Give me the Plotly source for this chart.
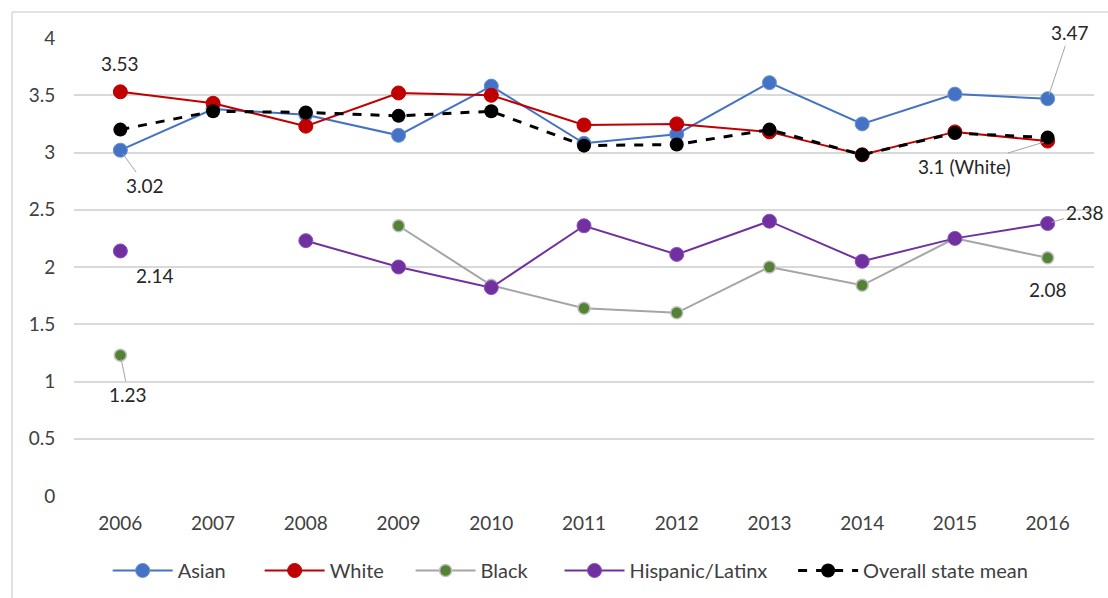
import plotly.graph_objects as go

years = ["2006", "2007", "2008", "2009", "2010", "2011", "2012", "2013", "2014", "2015", "2016"]

asian = [3.02, 3.38, 3.33, 3.15, 3.58, 3.08, 3.16, 3.61, 3.25, 3.51, 3.47]
white = [3.53, 3.43, 3.23, 3.52, 3.50, 3.24, 3.25, 3.18, 2.98, 3.18, 3.10]
black = [1.23, None, None, 2.36, 1.84, 1.64, 1.60, 2.00, 1.84, 2.25, 2.08]
hispanic = [2.14, None, 2.23, 2.00, 1.82, 2.36, 2.11, 2.40, 2.05, 2.25, 2.38]
state_mean = [3.20, 3.36, 3.35, 3.32, 3.36, 3.06, 3.07, 3.20, 2.98, 3.17, 3.13]

FONT = "Lato"
TXT = "#262626"

fig = go.Figure()

# drawing order: Black, Hispanic, Asian, White, mean on top
fig.add_trace(go.Scatter(
    x=years, y=black, name="Black", mode="lines+markers", legend="legend3",
    line=dict(color="#A5A5A5", width=2),
    marker=dict(color="#548235", size=12, line=dict(color="#BFBFBF", width=1.5)),
))
fig.add_trace(go.Scatter(
    x=years, y=hispanic, name="Hispanic/Latinx", mode="lines+markers", legend="legend4",
    line=dict(color="#7030A0", width=2),
    marker=dict(color="#7030A0", size=14, line=dict(color="#8A4FB8", width=1)),
))
fig.add_trace(go.Scatter(
    x=years, y=asian, name="Asian", mode="lines+markers", legend="legend",
    line=dict(color="#4472C4", width=2),
    marker=dict(color="#4472C4", size=14, line=dict(color="#6A8FD4", width=1)),
))
fig.add_trace(go.Scatter(
    x=years, y=white, name="White", mode="lines+markers", legend="legend2",
    line=dict(color="#C00000", width=2),
    marker=dict(color="#C00000", size=14, line=dict(color="#C00000", width=1)),
))
fig.add_trace(go.Scatter(
    x=years, y=state_mean, name="Overall state mean", mode="lines+markers", legend="legend5",
    line=dict(color="#000000", width=3, dash="dash"),
    marker=dict(color="#000000", size=14),
))

first, last = 0, len(years) - 1  # category positions for the end labels
lbl_font = dict(family=FONT, size=19, color=TXT)
lead = dict(showarrow=True, arrowhead=0, arrowwidth=1, arrowcolor="#A5A5A5", standoff=4, font=lbl_font)
fig.add_annotation(x=first, y=white[0], text="3.53", showarrow=False, yshift=28, font=lbl_font)
fig.add_annotation(x=first, y=asian[0], text="3.02", ax=25, ay=35, **lead)
fig.add_annotation(x=first, y=hispanic[0], text="2.14", showarrow=False, xshift=35, yshift=-25, font=lbl_font)
fig.add_annotation(x=first, y=black[0], text="1.23", ax=8, ay=39, **lead)
fig.add_annotation(x=last, y=asian[-1], text="3.47", ax=22, ay=-66, **lead)
fig.add_annotation(x=last, y=white[-1], text="3.1 (White)", ax=-83, ay=25, **lead)
fig.add_annotation(x=last, y=hispanic[-1], text="2.38", ax=37, ay=-11, **lead)
fig.add_annotation(x=last, y=black[-1], text="2.08", showarrow=False, yshift=-32, font=lbl_font)

# frame of the chart area (left and top edges)
fig.add_shape(type="line", xref="paper", yref="paper", x0=-0.0608, x1=-0.0608, y0=1.057, y1=-0.23,
              line=dict(color="#D9D9D9", width=1.5))
fig.add_shape(type="line", xref="paper", yref="paper", x0=-0.0608, x1=1.02, y0=1.057, y1=1.057,
              line=dict(color="#D9D9D9", width=1.5))

leg = dict(orientation="h", yref="container", yanchor="middle", y=0.046, xanchor="left", itemwidth=60,
           font=dict(family=FONT, size=20, color="#404040"), bgcolor="rgba(0,0,0,0)")
leg_x = [0.033, 0.182, 0.330, 0.476, 0.705]
fig.update_layout(
    width=1108, height=598,
    margin=dict(l=74, r=14, t=38, b=102),
    paper_bgcolor="white", plot_bgcolor="white",
    font=dict(family=FONT, size=19, color="#404040"),
    showlegend=True,
    legend=dict(leg, x=leg_x[0]),
    legend2=dict(leg, x=leg_x[1]),
    legend3=dict(leg, x=leg_x[2]),
    legend4=dict(leg, x=leg_x[3]),
    legend5=dict(leg, x=leg_x[4]),
    xaxis=dict(type="category", range=[-0.5, len(years) - 0.5], showgrid=False, zeroline=False,
               showline=False, ticks="outside", ticklen=10, tickcolor="rgba(0,0,0,0)",
               automargin=False, tickfont=dict(family=FONT, size=19, color="#404040")),
    yaxis=dict(range=[0, 4], dtick=0.5, showgrid=True, gridcolor="#D9D9D9", gridwidth=1.5,
               zeroline=False, showline=False, ticks="outside", ticklen=14, tickcolor="rgba(0,0,0,0)",
               automargin=False, tickformat="~g", tickfont=dict(family=FONT, size=19, color="#404040")),
)

fig.write_html("out.html", config={"displayModeBar": False},
               post_script="document.body.style.margin='0';")
